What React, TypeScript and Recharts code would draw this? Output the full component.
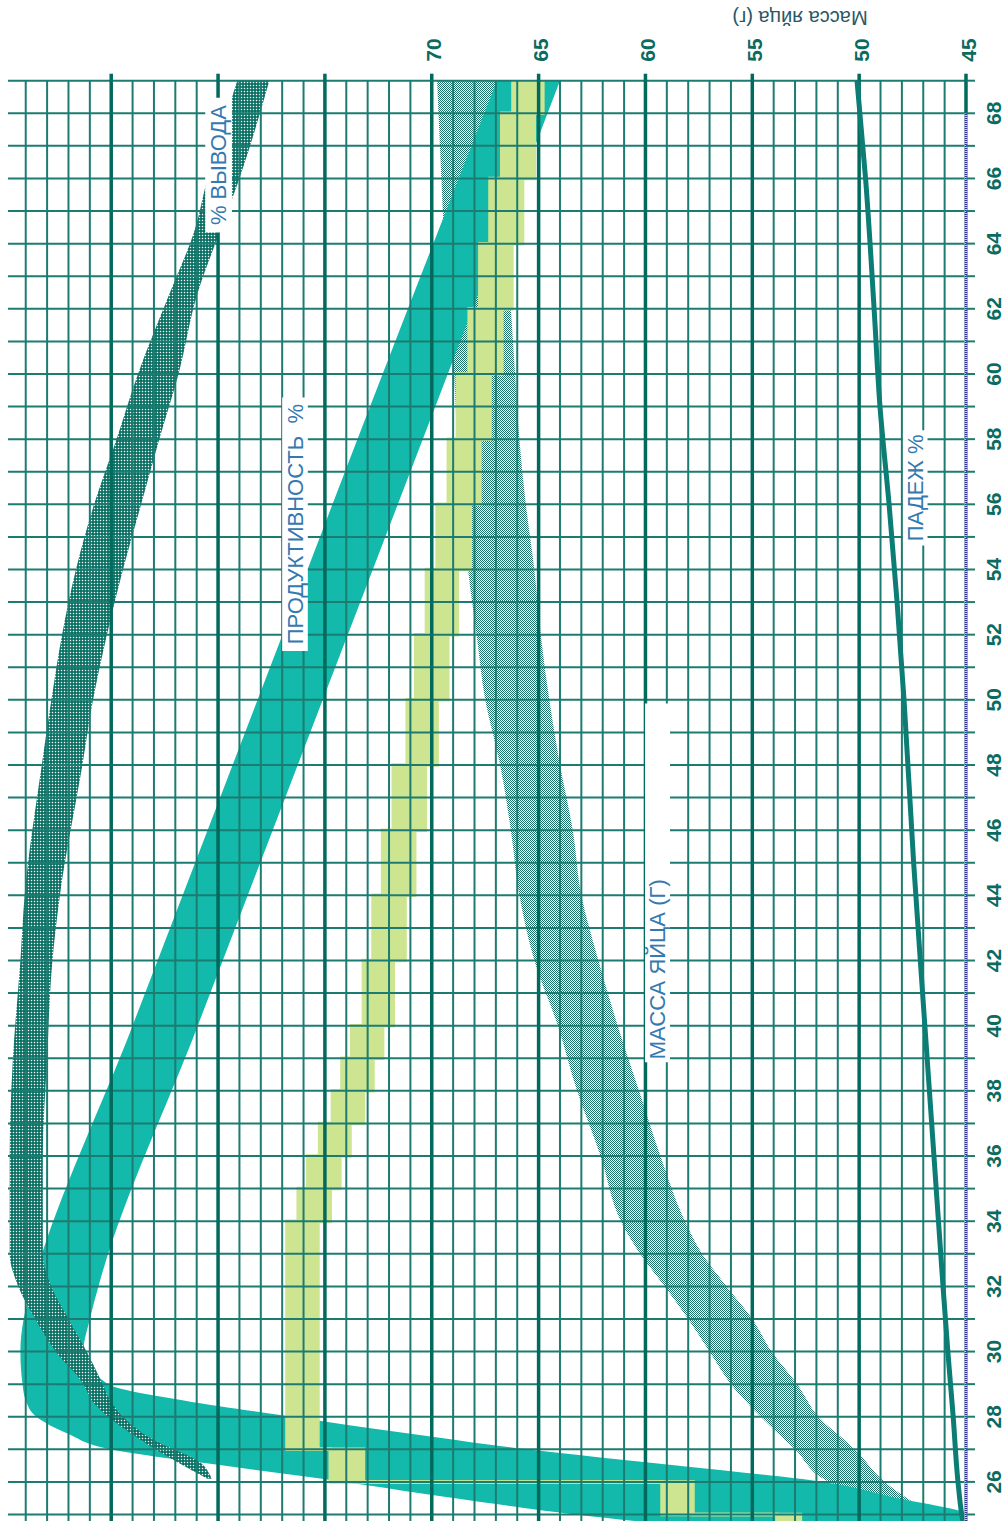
import React from "react";
import {
  ComposedChart,
  Area,
  Line,
  XAxis,
  YAxis,
  ReferenceLine,
  ReferenceArea,
  Label,
} from "recharts";

// Egg weight band, g (low / high edge)
const eggWeeks = [25.3, 26, 27, 28, 29, 30, 31, 32, 33, 34, 36, 38, 40, 42, 44, 46, 48, 50, 52, 54, 56, 58, 60, 62, 64, 66, 69];
const eggLow = [47.3, 48.8, 50.2, 51.9, 52.9, 54.1, 55.0, 56.2, 57.35, 58.15, 59.3, 60.3, 61.3, 62.2, 63.0, 63.4, 64.0, 64.5, 64.9, 65.2, 65.6, 65.9, 66.1, 66.3, 66.5, 66.7, 67.0];
const eggHigh = [48.0, 51.4, 53.0, 54.6, 56.0, 57.0, 58.0, 59.1, 60.25, 61.15, 62.1, 63.2, 64.1, 65.2, 65.9, 66.3, 66.8, 67.5, 67.9, 68.3, 68.5, 68.8, 68.95, 69.1, 69.4, 69.55, 69.75];

// Productivity band, %
const prodWeeks = [24.8, 25, 25.5, 26, 26.5, 27, 27.5, 28, 28.5, 29, 30, 31, 32, 40, 50, 60, 69];
const prodLow = [0, 0, 6.4, 13.4, 27.1, 41.1, 52.5, 63.1, 73.2, 80.3, 82.6, 82.0, 81.2, 71.9, 60.2, 48.5, 38.0];
const prodHigh = [31, 36.5, 47.8, 58.2, 69.5, 80.1, 84.2, 87.0, 88.0, 88.3, 88.5, 88.2, 87.4, 78.0, 66.3, 54.6, 43.9];

// Hatchability band (% вывода)
const hatchWeeks = [26.1, 26.6, 27.3, 28.5, 29, 30, 31, 32, 33, 36, 39, 42, 44, 48, 50, 52, 54, 56, 58, 60, 62.5, 64.4, 66, 69];
const hatchLow = [70.6, 71.7, 76.1, 80.1, 80.8, 82.3, 84.0, 85.6, 86.4, 86.4, 86.0, 85.5, 84.8, 82.7, 81.7, 80.4, 78.9, 77.2, 75.5, 73.7, 71.9, 69.8, 68.0, 65.2];
const hatchHigh = [71.0, 73.8, 77.3, 81.8, 82.6, 85.2, 87.1, 88.7, 89.5, 89.5, 89.2, 88.5, 88.1, 86.5, 85.6, 84.6, 83.3, 81.6, 79.5, 77.5, 74.5, 72.2, 71.0, 68.2];

// Stepped light-green band, %
const stepWeeks = [24.8, 25, 26, 27, 34, 35, 36, 37, 38, 39, 40, 42, 44, 46, 48, 50, 52, 54, 56, 58, 60, 62, 64, 66, 68, 69];
const stepLow = [15.5, 25.55, 56.4, 60.65, 59.5, 58.6, 57.65, 56.4, 55.5, 54.6, 53.6, 52.5, 51.6, 50.6, 49.5, 48.5, 47.6, 46.4, 45.5, 44.55, 43.45, 42.5, 41.5, 40.4, 39.6, 39.6];
const stepHigh = [17.7, 28.45, 59.5, 63.55, 62.5, 61.6, 60.5, 59.3, 58.4, 57.5, 56.4, 55.5, 54.6, 53.6, 52.3, 51.5, 50.5, 49.5, 48.45, 47.6, 46.5, 45.5, 44.55, 43.45, 42.4, 42.4];

// Mortality (падеж), %
const mortWeeks = [24.8, 25, 26, 28, 30, 32, 36, 40, 45, 50, 53, 56, 59, 62, 66, 69];
const mortVals = [0.3, 0.4, 0.75, 1.2, 1.7, 2.15, 3.0, 3.85, 4.9, 5.8, 6.45, 7.2, 8.05, 8.6, 9.4, 10.2];

// tick labels
const weekLabels = [26, 28, 30, 32, 34, 36, 38, 40, 42, 44, 46, 48, 50, 52, 54, 56, 58, 60, 62, 64, 66, 68];
const weightLabels = [45, 50, 55, 60, 65, 70];

const WEEK_MIN = 24.8;
const WEEK_MAX = 69;
const G_MAX = 89.83; // egg weight at the top edge of the plot
const P_MAX = 89.66; // same edge on the % scale

const weekGrid = Array.from({ length: 45 }, (_, i) => 25 + i);
const gramGrid = Array.from({ length: 45 }, (_, i) => 45 + i);
const thickGrams = gramGrid.filter((g) => g % 5 === 0);
const thinGrams = gramGrid.filter((g) => g % 5 !== 0);

const THIN = "#1d7c71";
const THICK = "#006a5d";
const TEXT_BLUE = "#3579b1";
const FONT = "'Liberation Sans', Arial, Helvetica, sans-serif";

type Row = { week: number; [k: string]: number | undefined };

function buildRows(): Row[] {
  const map = new Map<number, Row>();
  const put = (weeks: number[], fields: Record<string, number[]>) => {
    weeks.forEach((w, i) => {
      const row = map.get(w) ?? { week: w };
      for (const k of Object.keys(fields)) row[k] = fields[k][i];
      map.set(w, row);
    });
  };
  put(eggWeeks, { eggLow, eggHigh });
  put(prodWeeks, { prodLow, prodHigh });
  put(hatchWeeks, { hatchLow, hatchHigh });
  put(stepWeeks, { stepLow, stepHigh });
  put(mortWeeks, { mort: mortVals });
  return [...map.values()].sort((a, b) => a.week - b.week);
}

const rows = buildRows();

const range = (lo: string, hi: string) => (d: Row) =>
  d[lo] == null ? null : [d[lo] as number, d[hi] as number];

const WeekTick = (props: any) => {
  const { x, y, payload } = props;
  if (!weekLabels.includes(payload.value)) return <g />;
  return (
    <text
      x={x}
      y={y + 16}
      textAnchor="middle"
      dominantBaseline="central"
      fontFamily={FONT}
      fontWeight={700}
      fontSize={21}
      fill="#0b6b60"
    >
      {payload.value}
    </text>
  );
};

const WeightTick = (props: any) => {
  const { x, y, payload } = props;
  if (!weightLabels.includes(payload.value)) return <g />;
  return (
    <text
      x={x}
      y={y + 2}
      textAnchor="start"
      dominantBaseline="central"
      fontFamily={FONT}
      fontWeight={700}
      fontSize={21}
      fill="#0b6b60"
    >
      {payload.value}
    </text>
  );
};

const labelStyle = { fill: TEXT_BLUE, fontSize: 22, fontFamily: FONT };

const axisSegment = [
  { x: WEEK_MIN, y: 0 },
  { x: 68, y: 0 },
];

export default function App() {
  return (
    <div
      style={{
        position: "absolute",
        left: 0,
        top: 0,
        width: 1008,
        height: 1521,
        overflow: "hidden",
        background: "#ffffff",
      }}
    >
      {/* chart is drawn landscape and turned a quarter turn left */}
      <div
        style={{
          position: "absolute",
          left: 0,
          top: 0,
          width: 1521,
          height: 1008,
          transformOrigin: "0 0",
          transform: "translate(0px, 1521px) rotate(-90deg)",
        }}
      >
        <ComposedChart
          width={1521}
          height={1008}
          data={rows}
          margin={{ top: 8, right: 0, bottom: 0, left: 0 }}
        >
          <defs>
            <pattern id="eggPat" width="2" height="2" patternUnits="userSpaceOnUse">
              <rect width="2" height="2" fill="#ffffff" />
              <rect x="0" y="0" width="1" height="1" fill="#1c7369" />
              <rect x="1" y="1" width="1" height="1" fill="#1c7369" />
            </pattern>
            <pattern id="hatchPat" width="3" height="3" patternUnits="userSpaceOnUse">
              <rect width="3" height="3" fill="#006a5e" />
              <rect x="0.8" y="0.8" width="1.4" height="1.4" fill="#ffffff" />
            </pattern>
          </defs>

          <XAxis
            xAxisId="wk"
            dataKey="week"
            type="number"
            domain={[WEEK_MIN, WEEK_MAX]}
            allowDataOverflow
            ticks={weekGrid}
            interval={0}
            height={42}
            tickSize={9}
            tickMargin={2}
            tickLine={{ stroke: THIN, strokeWidth: 2 }}
            axisLine={false}
            tick={WeekTick}
          />
          <YAxis yAxisId="p" type="number" domain={[0, P_MAX]} allowDataOverflow hide />
          <YAxis
            yAxisId="w"
            orientation="right"
            type="number"
            width={80.7}
            domain={[45, G_MAX]}
            allowDataOverflow
            ticks={thickGrams}
            interval={0}
            tickSize={7}
            tickMargin={12}
            tickLine={{ stroke: THICK, strokeWidth: 3.5 }}
            axisLine={false}
            tick={WeightTick}
          />

          <Area
            xAxisId="wk"
            yAxisId="w"
            dataKey={range("eggLow", "eggHigh")}
            type="monotone"
            stroke="none"
            fill="url(#eggPat)"
            fillOpacity={1}
            connectNulls
            dot={false}
            activeDot={false}
            isAnimationActive={false}
            zIndex={100}
          />
          <Area
            xAxisId="wk"
            yAxisId="p"
            dataKey={range("prodLow", "prodHigh")}
            type="monotone"
            stroke="none"
            fill="#13b9ab"
            fillOpacity={1}
            connectNulls
            dot={false}
            activeDot={false}
            isAnimationActive={false}
            zIndex={101}
          />
          <Area
            xAxisId="wk"
            yAxisId="p"
            dataKey={range("stepLow", "stepHigh")}
            type="stepAfter"
            stroke="#cde591"
            strokeWidth={3.5}
            fill="#cde591"
            fillOpacity={1}
            connectNulls
            dot={false}
            activeDot={false}
            isAnimationActive={false}
            zIndex={102}
          />
          <Area
            xAxisId="wk"
            yAxisId="p"
            dataKey={range("hatchLow", "hatchHigh")}
            type="monotone"
            stroke="none"
            fill="url(#hatchPat)"
            fillOpacity={1}
            connectNulls
            dot={false}
            activeDot={false}
            isAnimationActive={false}
            zIndex={103}
          />

          {weekGrid.map((w) => (
            <ReferenceLine key={"wk" + w} xAxisId="wk" yAxisId="w" x={w} stroke={THIN} strokeWidth={2} zIndex={104} />
          ))}
          {thinGrams.map((g) => (
            <ReferenceLine key={"g" + g} xAxisId="wk" yAxisId="w" y={g} stroke={THIN} strokeWidth={2} zIndex={104} />
          ))}
          {thickGrams.map((g) => (
            <ReferenceLine key={"G" + g} xAxisId="wk" yAxisId="w" y={g} stroke={THICK} strokeWidth={3.5} zIndex={104} />
          ))}

          <Line
            xAxisId="wk"
            yAxisId="p"
            dataKey="mort"
            type="monotone"
            stroke="#0b7d74"
            strokeWidth={5}
            connectNulls
            dot={false}
            activeDot={false}
            isAnimationActive={false}
            zIndex={105}
          />

          {/* week axis line: white underlay, then navy dots */}
          <ReferenceLine
            xAxisId="wk"
            yAxisId="p"
            segment={axisSegment}
            stroke="#ffffff"
            strokeWidth={3}
            ifOverflow="visible"
            zIndex={106}
          />
          <ReferenceLine
            xAxisId="wk"
            yAxisId="p"
            segment={axisSegment}
            stroke="#3b2f9e"
            strokeWidth={2.5}
            strokeDasharray="1.2 0.8"
            ifOverflow="visible"
            zIndex={106}
          />

          <ReferenceArea xAxisId="wk" yAxisId="p" x1={64.34} x2={68.48} y1={68.7} y2={71.2} fill="#ffffff" fillOpacity={1} stroke="none" ifOverflow="visible" zIndex={107}>
            <Label value="% ВЫВОДА" position="center" {...labelStyle} />
          </ReferenceArea>
          <ReferenceArea xAxisId="wk" yAxisId="p" x1={51.5} x2={59.28} y1={61.6} y2={64.0} fill="#ffffff" fillOpacity={1} stroke="none" ifOverflow="visible" zIndex={107}>
            <Label value={"ПРОДУКТИВНОСТЬ\u00a0\u00a0%"} position="center" {...labelStyle} />
          </ReferenceArea>
          <ReferenceArea xAxisId="wk" yAxisId="p" x1={38.88} x2={49.89} y1={27.7} y2={30.04} fill="#ffffff" fillOpacity={1} stroke="none" ifOverflow="visible" zIndex={107}>
            <Label value="МАССА ЯЙЦА (Г)" position="insideLeft" offset={3} {...labelStyle} />
          </ReferenceArea>
          <ReferenceArea xAxisId="wk" yAxisId="p" x1={54.74} x2={58.27} y1={3.6} y2={5.9} fill="#ffffff" fillOpacity={1} stroke="none" ifOverflow="visible" zIndex={107}>
            <Label value="ПАДЕЖ %" position="center" {...labelStyle} />
          </ReferenceArea>

          <text
            x={1503}
            y={800}
            transform="rotate(-90 1503 800)"
            textAnchor="middle"
            dominantBaseline="central"
            fontFamily={FONT}
            fontSize={20}
            fill="#2a5866"
          >
            Масса яйца (г)
          </text>
        </ComposedChart>
      </div>
    </div>
  );
}
